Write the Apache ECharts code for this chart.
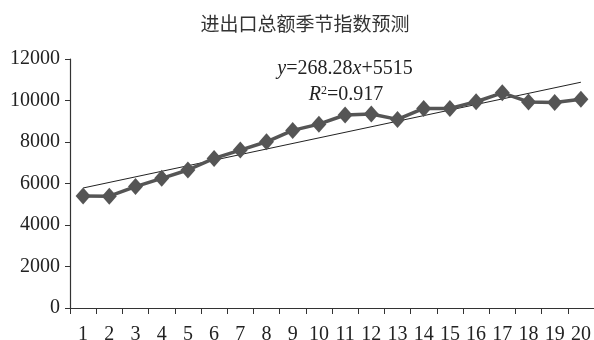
<!DOCTYPE html>
<html>
<head>
<meta charset="utf-8">
<script src="https://cdn.jsdelivr.net/npm/echarts@6/dist/echarts.min.js"></script>
<style>
  html, body { margin: 0; padding: 0; background: #fff; }
  #chart { width: 594px; height: 340px; }
</style>
</head>
<body>
<div id="chart"></div>
<script>
// Quarter index 1..20
const periods = ['1','2','3','4','5','6','7','8','9','10','11','12','13','14','15','16','17','18','19','20'];
// Seasonal index of total imports and exports
const seasonalIndex = [5400, 5390, 5850, 6250, 6650, 7210, 7610, 8010, 8560, 8860, 9300, 9350, 9090, 9620, 9620, 9940, 10370, 9930, 9900, 10060];
// Linear trend fitted to the series: y = slope * x + intercept
const trendSlope = 268.28;
const trendIntercept = 5515;
const trendR2 = 0.917;
const yTicks = [0, 2000, 4000, 6000, 8000, 10000, 12000];

const serif = '"Liberation Serif", "Times New Roman", serif';
const trendAt = x => trendSlope * x + trendIntercept;
const trendData = [
  [0, trendAt(1)],
  [periods.length - 1, trendAt(periods.length)]
];

const chart = echarts.init(document.getElementById('chart'));
chart.setOption({
  animation: false,
  backgroundColor: '#ffffff',
  title: {
    text: '进出口总额季节指数预测',
    left: 300,
    top: 9,
    textAlign: 'center',
    textStyle: {
      fontFamily: '"Noto Sans CJK SC", sans-serif',
      fontSize: 19,
      fontWeight: 'normal',
      color: '#333'
    }
  },
  grid: { left: 70, right: 0, top: 59, bottom: 32, containLabel: false, outerBoundsMode: 'none' },
  xAxis: {
    type: 'category',
    data: periods,
    boundaryGap: true,
    axisLine: { lineStyle: { color: '#333', width: 1.2 } },
    axisTick: { show: true, length: 6, alignWithLabel: false, lineStyle: { color: '#333' } },
    axisLabel: { fontFamily: serif, fontSize: 20, color: '#222', margin: 17, interval: 0 },
    splitLine: { show: false }
  },
  yAxis: {
    type: 'value',
    min: yTicks[0],
    max: yTicks[yTicks.length - 1],
    interval: yTicks[1] - yTicks[0],
    axisLine: { show: true, lineStyle: { color: '#333', width: 1.2 } },
    axisTick: { show: true, length: 5, lineStyle: { color: '#333' } },
    axisLabel: { fontFamily: serif, fontSize: 20, color: '#222', margin: 10, formatter: v => String(v) },
    splitLine: { show: false }
  },
  series: [
    {
      name: '季节指数',
      type: 'line',
      data: seasonalIndex,
      symbol: 'diamond',
      symbolSize: [15, 17],
      lineStyle: { color: '#555', width: 3.5 },
      itemStyle: { color: '#555' },
      z: 3
    },
    {
      name: '线性趋势',
      type: 'line',
      data: trendData,
      symbol: 'none',
      lineStyle: { color: '#222', width: 1 },
      z: 2
    }
  ],
  graphic: [
    {
      type: 'text',
      x: 345,
      y: 69,
      style: {
        text: '{i|y}=' + trendSlope + '{i|x}+' + trendIntercept,
        fontFamily: serif,
        fontSize: 20,
        fill: '#222',
        align: 'center',
        verticalAlign: 'middle',
        rich: { i: { fontStyle: 'italic', fontFamily: serif, fontSize: 20 } }
      }
    },
    {
      type: 'text',
      x: 346,
      y: 95,
      style: {
        text: '{i|R}{s|2}=' + trendR2,
        fontFamily: serif,
        fontSize: 20,
        fill: '#222',
        align: 'center',
        verticalAlign: 'middle',
        rich: {
          i: { fontStyle: 'italic', fontFamily: serif, fontSize: 20 },
          s: { fontFamily: serif, fontSize: 12, verticalAlign: 'top', padding: [0, 0, 8, 0] }
        }
      }
    }
  ]
});
</script>
</body>
</html>
